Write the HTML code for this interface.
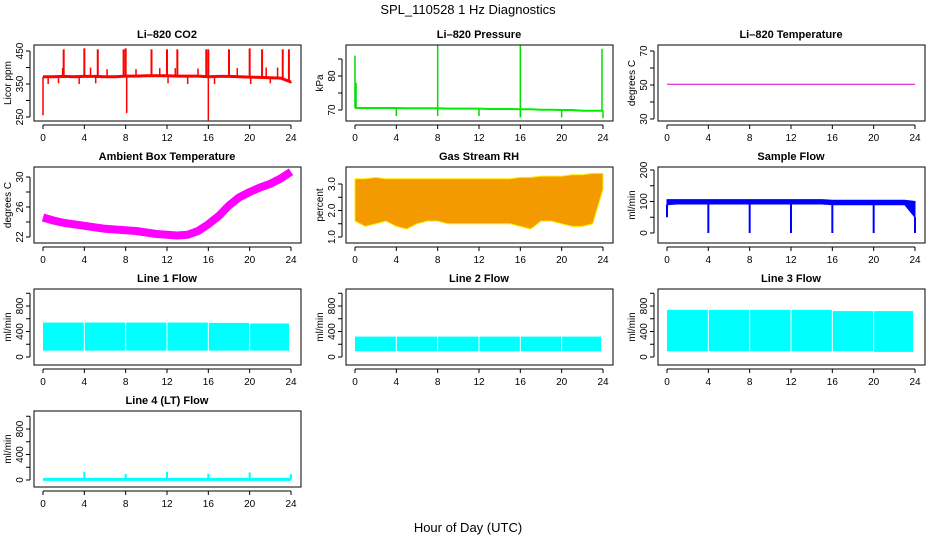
<!DOCTYPE html>
<html><head><meta charset="utf-8">
<style>
html,body{margin:0;padding:0;background:#fff;}
svg{display:block;font-family:"Liberation Sans",sans-serif;}
</style></head>
<body>
<svg id="root" width="936" height="540" viewBox="0 0 936 540" xmlns="http://www.w3.org/2000/svg">
<text x="468" y="14" text-anchor="middle" font-size="13">SPL_110528  1 Hz Diagnostics</text>
<text x="468" y="532" text-anchor="middle" font-size="13">Hour of Day (UTC)</text>
</svg>
<script>
// ---- data arrays ----
var hours = [0,1,2,3,4,5,6,7,8,9,10,11,12,13,14,15,16,17,18,19,20,21,22,23,24];
var xTicks = [0,4,8,12,16,20,24];
// CO2
var co2Base = [372,372,373,372,373,373,372,372,374,374,375,375,375,374,374,374,372,373,373,372,371,370,369,368,356];
var co2SpikeHours = [2,4,5.3,7.8,8,10.5,12,13,15.8,16,18,20,21.2,23.2,23.8];
var co2SpikeVals = [455,458,455,455,458,455,455,455,455,455,455,458,455,455,455];
var co2MidHours = [1.9,4.6,6.2,9.0,11.3,12.8,15.0,18.8,21.6,22.7];
var co2MidVals = [398,400,395,395,398,398,397,398,400,400];
var co2DipHours = [0,0.5,1.5,3.5,5.1,8.1,12.1,14.0,16,16.6,20.1,22,24];
var co2DipVals = [255,350,352,350,352,262,352,350,240,350,350,352,352];
// Pressure
var presBase = [70.6,70.6,70.6,70.6,70.6,70.5,70.5,70.5,70.5,70.4,70.4,70.4,70.4,70.3,70.3,70.3,70.2,70.2,70.1,70.1,70.0,70.0,69.8,69.8,69.8];
var presSpikeHours = [0,0.1,8,16,23.9];
var presSpikeVals = [86,78,89,89,88];
var presDipHours = [4,8,12,16,20,24];
var presDipVals = [68.2,68.2,68.2,67.8,67.8,67.6];
// Li-820 temperature
var licorTemp = [50.5,50.5,50.5,50.5,50.5,50.5,50.5,50.5,50.5,50.5,50.5,50.5,50.5,50.5,50.5,50.5,50.5,50.5,50.5,50.5,50.5,50.5,50.5,50.5,50.5];
// Ambient box temperature
var boxTemp = [24.6,24.2,23.9,23.7,23.5,23.3,23.1,23.0,22.9,22.8,22.6,22.4,22.3,22.2,22.3,22.8,23.7,24.8,26.2,27.3,28.0,28.6,29.1,29.8,30.7];
// Gas stream RH
var rhTop = [3.2,3.2,3.25,3.2,3.2,3.2,3.2,3.2,3.2,3.2,3.2,3.2,3.2,3.2,3.2,3.2,3.25,3.25,3.3,3.3,3.3,3.35,3.35,3.4,3.4];
var rhBot = [1.6,1.4,1.5,1.6,1.4,1.3,1.5,1.6,1.6,1.5,1.5,1.5,1.5,1.5,1.5,1.5,1.4,1.3,1.6,1.6,1.5,1.4,1.4,1.5,2.8];
// Sample flow
var sfTop = [106,106,106,106,106,106,106,106,106,106,106,106,106,106,106,106,104,104,104,104,104,104,104,104,100];
var sfBot = [90,92,92,92,92,92,92,92,92,92,92,92,92,92,92,92,90,90,90,90,90,90,90,90,50];
var sfDropHours = [0,4,8,12,16,20,24];
var sfDropVals = [50,0,0,0,0,0,0];
// Line flows (segment lows/highs, gaps at purge hours)
var gapHours = [4,8,12,16,20];
var l1High = [540,540,540,540,535,525];
var l1Low = [100,100,100,100,100,100];
var l2High = [320,320,320,320,320,320];
var l2Low = [90,90,90,90,90,90];
var l3High = [740,740,740,740,720,720];
var l3Low = [90,90,90,90,90,80];
var l4Base = [10,10,10,10,10,10];
var l4SpikeHours = [4,8,12,16,20,24];
var l4SpikeVals = [130,95,130,100,120,90];

// ---- layout helpers ----
var NS = "http://www.w3.org/2000/svg";
var root = document.getElementById('root');
function mk(tag, attrs, parent) {
  var e = document.createElementNS(NS, tag);
  for (var k in attrs) e.setAttribute(k, attrs[k]);
  (parent || root).appendChild(e);
  return e;
}
function panel(col, row, title, ylab, v0, p0, v1, p1, ticks, labels, name) {
  var g = mk('g', {});
  
  
  var x0 = 43 + 312 * col, top = 45 + 122 * row;
  var P = {g: g, top: top};
  P.x = function (h) { return x0 + h / 24 * 248; };
  P.y = function (v) { return top + p0 + (v - v0) / (v1 - v0) * (p1 - p0); };
  var box = mk('rect', {x: x0 - 9, y: top, width: 267, height: 76, fill: 'none', stroke: '#000', 'stroke-width': 1}, g);
  
  
  var t = mk('text', {x: x0 + 124, y: top - 7, 'text-anchor': 'middle', 'font-size': 11, 'font-weight': 'bold'}, g);
  t.textContent = title;
  
  
  var ay = top + 80;
  mk('line', {x1: P.x(0), x2: P.x(24), y1: ay, y2: ay, stroke: '#000'}, g);
  xTicks.forEach(function (h) {
    mk('line', {x1: P.x(h), x2: P.x(h), y1: ay, y2: ay + 4, stroke: '#000'}, g);
    var tl = mk('text', {x: P.x(h), y: ay + 16, 'text-anchor': 'middle', 'font-size': 10}, g);
    tl.textContent = h;
    
    
  });
  var ax = x0 - 13;
  mk('line', {x1: ax, x2: ax, y1: P.y(ticks[0]), y2: P.y(ticks[ticks.length - 1]), stroke: '#000'}, g);
  ticks.forEach(function (v) {
    mk('line', {x1: ax - 4, x2: ax, y1: P.y(v), y2: P.y(v), stroke: '#000'}, g);
  });
  labels.forEach(function (v) {
    var yl = mk('text', {x: 0, y: 0, 'text-anchor': 'middle', 'font-size': 10, transform: 'translate(' + (ax - 7) + ',' + P.y(v) + ') rotate(-90)'}, g);
    yl.textContent = v;
    
    
  });
  var ylb = mk('text', {x: 0, y: 0, 'text-anchor': 'middle', 'font-size': 10, transform: 'translate(' + (x0 - 32) + ',' + (top + 38) + ') rotate(-90)'}, g);
  ylb.textContent = ylab;
  
  
  return P;
}
function linePath(P, xs, ys) {
  return xs.map(function (h, i) { return (i ? 'L' : 'M') + P.x(h).toFixed(1) + ',' + P.y(ys[i]).toFixed(1); }).join('');
}
function spikes(P, hs, vals, baseArr, color, w, nm) {
  hs.forEach(function (h, i) {
    var b = baseArr[Math.min(24, Math.round(h))];
    var s = mk('line', {x1: P.x(h), x2: P.x(h), y1: P.y(b), y2: P.y(vals[i]), stroke: color, 'stroke-width': w}, P.g);
    
    
  });
}
function band(P, top, bot, color, nm) {
  var d = linePath(P, hours, top) + hours.slice().reverse().map(function (h, i) {
    return 'L' + P.x(h).toFixed(1) + ',' + P.y(bot[24 - i]).toFixed(1);
  }).join('') + 'Z';
  var e = mk('path', {d: d, fill: color, stroke: color, 'stroke-width': 1}, P.g);
  
  
  return e;
}
function segFlow(P, hi, lo, color, nm) {
  var bounds = [0].concat(gapHours).concat([24]);
  for (var i = 0; i < bounds.length - 1; i++) {
    var a = P.x(bounds[i]) + (i ? 0.5 : 0), b = P.x(bounds[i + 1]) - (i < bounds.length - 2 ? 0.5 : 2);
    var r = mk('rect', {x: a, y: P.y(hi[i]), width: b - a, height: P.y(lo[i]) - P.y(hi[i]), fill: color}, P.g);
    
    
  }
}

// ---- panels ----
var p1 = panel(0, 0, 'Li\u2013820 CO2', 'Licor ppm', 250, 72, 450, 6, [250,300,350,400,450], [250,350,450], 'co2');
spikes(p1, co2SpikeHours, co2SpikeVals, co2Base, '#ff0000', 2, 'co2-spike');
spikes(p1, co2MidHours, co2MidVals, co2Base, '#ff0000', 1.5, 'co2-spike');
spikes(p1, co2DipHours, co2DipVals, co2Base, '#ff0000', 1.5, 'co2-dip');
var c1 = mk('path', {d: linePath(p1, hours, co2Base), fill: 'none', stroke: '#ff0000', 'stroke-width': 3}, p1.g);



var p2 = panel(1, 0, 'Li\u2013820 Pressure', 'kPa', 70, 65, 80, 31, [70,75,80,85], [70,80], 'pressure');
spikes(p2, presSpikeHours, presSpikeVals, presBase, '#00dd00', 1.5, 'pressure-spike');
spikes(p2, presDipHours, presDipVals, presBase, '#00dd00', 1.5, 'pressure-dip');
var c2 = mk('path', {d: linePath(p2, hours, presBase), fill: 'none', stroke: '#00ee00', 'stroke-width': 2}, p2.g);



var p3 = panel(2, 0, 'Li\u2013820 Temperature', 'degrees C', 30, 74, 70, 6, [30,40,50,60,70], [30,50,70], 'licor-temp');
var c3 = mk('path', {d: linePath(p3, hours, licorTemp), fill: 'none', stroke: '#cc00cc', 'stroke-width': 1}, p3.g);



var p4 = panel(0, 1, 'Ambient Box Temperature', 'degrees C', 22, 70, 30, 10, [22,24,26,28,30], [22,26,30], 'box-temp');
var c4 = mk('path', {d: linePath(p4, hours, boxTemp), fill: 'none', stroke: '#ff00ff', 'stroke-width': 8, 'stroke-linejoin': 'round'}, p4.g);



var p5 = panel(1, 1, 'Gas Stream RH', 'percent', 1.0, 70, 3.0, 17, [1.0,1.5,2.0,2.5,3.0], ['1.0','2.0','3.0'], 'rh');
band(p5, rhTop, rhBot, '#f39a00', 'rh-band').setAttribute('stroke', '#ffee00');

var p6 = panel(2, 1, 'Sample Flow', 'ml/min', 0, 66, 200, 3, [0,50,100,150,200], [0,100,200], 'sample-flow');
band(p6, sfTop, sfBot, '#0000ff', 'sample-flow-band');
spikes(p6, sfDropHours, sfDropVals, sfBot, '#0000ff', 2, 'sample-flow-drop');

var p7 = panel(0, 2, 'Line 1 Flow', 'ml/min', 0, 68, 800, 17, [0,200,400,600,800,1000], [0,400,800], 'line1-flow');
segFlow(p7, l1High, l1Low, '#00ffff', 'line1-flow');
var p8 = panel(1, 2, 'Line 2 Flow', 'ml/min', 0, 68, 800, 17, [0,200,400,600,800,1000], [0,400,800], 'line2-flow');
segFlow(p8, l2High, l2Low, '#00ffff', 'line2-flow');
var p9 = panel(2, 2, 'Line 3 Flow', 'ml/min', 0, 68, 800, 17, [0,200,400,600,800,1000], [0,400,800], 'line3-flow');
segFlow(p9, l3High, l3Low, '#00ffff', 'line3-flow');

var p10 = panel(0, 3, 'Line 4 (LT) Flow', 'ml/min', 0, 69, 800, 18, [0,200,400,600,800,1000], [0,400,800], 'line4-flow');
var c10 = mk('line', {x1: p10.x(0), x2: p10.x(24), y1: p10.y(l4Base[0]), y2: p10.y(l4Base[0]), stroke: '#00ffff', 'stroke-width': 3}, p10.g);


spikes(p10, l4SpikeHours, l4SpikeVals, [10,10,10,10,10,10,10,10,10,10,10,10,10,10,10,10,10,10,10,10,10,10,10,10,10], '#00ffff', 2, 'line4-flow-spike');
</script>
</body></html>
